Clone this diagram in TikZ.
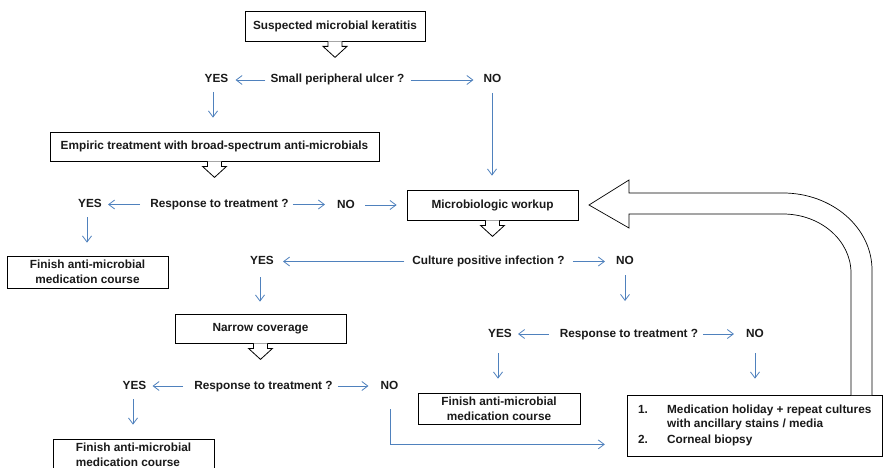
\documentclass[tikz,border=0pt]{standalone}
\usepackage{fontspec}
\setmainfont{Liberation Sans}
\usetikzlibrary{arrows.meta,calc}
\definecolor{arrowblue}{HTML}{4F81BD}
\definecolor{txt}{HTML}{1A1A1A}
\newcommand\blkarrow[1]{\draw[blk] ($(#1.south)+(-7,0)$) -- ++(0,5) -- ++(-5,0) -- ++(12,11) -- ++(12,-11) -- ++(-5,0) -- ++(0,-5);}
\begin{document}
\begin{tikzpicture}[x=1pt,y=-1pt,
  every node/.style={font=\bfseries\fontsize{11.8}{15}\selectfont, text=txt},
  box/.style={draw=black, line width=0.8pt, inner sep=2pt, align=center},
  lbl/.style={inner sep=0pt, text height=8.5pt, text depth=2.5pt},
  barrow/.style={draw=arrowblue, line width=0.8pt, -{Straight Barb[length=6pt,width=9pt]}},
  blk/.style={draw=black, line width=0.8pt, fill=white, line join=miter},
]
\useasboundingbox (0,0) rectangle (883,468);
\fill[white] (0,0) rectangle (883,468);

% boxes
\node[box, minimum width=180pt, minimum height=30pt] (b1) at (335,26) {Suspected microbial keratitis};
\node[box, minimum width=329pt, minimum height=29pt] (b2) at (214.5,146.5) {Empiric treatment with broad-spectrum anti-microbials};
\node[box, minimum width=171pt, minimum height=30pt] (b3) at (492.5,205) {Microbiologic workup};
\node[box, minimum width=161pt, minimum height=32pt] (f1) at (87.5,272) {Finish anti-microbial\\medication course};
\node[box, minimum width=171pt, minimum height=29pt] (b4) at (260.5,328.5) {Narrow coverage};
\node[box, minimum width=162pt, minimum height=31pt] (f2) at (499,408.5) {Finish anti-microbial\\medication course};
\node[box, minimum width=161pt, minimum height=32pt, align=left] (f3) at (133.5,455) {Finish anti-microbial\\medication course};
\node[box, minimum width=255pt, minimum height=61pt, align=left, font=\bfseries\fontsize{11.8}{14}\selectfont] (fin) at (754.75,425.5)
  {\begin{tabular}{@{}p{29pt}@{}l@{}}1. & Medication holiday + repeat cultures\\ & with ancillary stains / media\\[2pt] 2. & Corneal biopsy\end{tabular}};

% labels
\node[lbl] (q1) at (337.5,80) {Small peripheral ulcer ?};
\node[lbl] (y1) at (216.5,80) {YES};
\node[lbl] (n1) at (492.5,80) {NO};
\node[lbl] (q2) at (219.5,204.5) {Response to treatment ?};
\node[lbl] (y2) at (90,204.5) {YES};
\node[lbl] (n2) at (346,205) {NO};
\node[lbl] (q3) at (488.5,261.5) {Culture positive infection ?};
\node[lbl] (y3) at (262,261.5) {YES};
\node[lbl] (n3) at (625,261.5) {NO};
\node[lbl] (q4) at (629,334) {Response to treatment ?};
\node[lbl] (y4) at (500,334) {YES};
\node[lbl] (n4) at (755,334.5) {NO};
\node[lbl] (q5) at (263.5,386) {Response to treatment ?};
\node[lbl] (y5) at (134.5,386) {YES};
\node[lbl] (n5) at (389.5,386.5) {NO};

% block arrows
\blkarrow{b1}
\blkarrow{b2}
\blkarrow{b3}
\blkarrow{b4}

% big return arrow
\draw[blk, line width=0.7pt] (872,395) -- (872,270)
  .. controls (872,227.5) and (832,193) .. (783,193)
  -- (629,193) -- (629,180) -- (589,205) -- (629,228) -- (629,214) -- (783,214)
  .. controls (820.5,214) and (851,240.4) .. (851,273) -- (851,395);

% connectors
\draw[barrow, shorten <=5pt, shorten >=7pt] (q1.west) -- (y1.east);
\draw[barrow, shorten <=6pt, shorten >=10pt] (q1.east) -- (n1.west);
\draw[barrow] ($(y1)+(-3.5,12)$) -- ($(y1 |- b2.north)+(-3.5,-14)$);
\draw[barrow] ($(n1)+(-0.5,13)$) -- ($(n1 |- b3.north)+(-0.5,-14)$);

\draw[barrow, shorten <=10pt, shorten >=6pt] (q2.west) -- (y2.east);
\draw[barrow, shorten <=4pt, shorten >=12pt] (q2.east) -- (q2.east -| n2.west);
\draw[barrow, shorten <=10pt, shorten >=10pt] (n2.east) -- (n2.east -| b3.west);
\draw[barrow] ($(y2)+(-3,12.5)$) -- ($(y2 |- f1.north)+(-3,-13)$);

\draw[barrow, shorten <=8pt, shorten >=9pt] (q3.west) -- (y3.east);
\draw[barrow, shorten <=8pt, shorten >=11pt] (q3.east) -- (n3.west);
\draw[barrow] ($(y3)+(-2,15.5)$) -- ($(y3 |- b4.north)+(-2,-12)$);
\draw[barrow] ($(n3)+(0,13.5)$) -- ($(n3)+(0,39.5)$);

\draw[barrow, shorten <=11pt, shorten >=6pt] (q4.west) -- (y4.east);
\draw[barrow, shorten <=5pt, shorten >=12pt] (q4.east) -- (q4.east -| n4.west);
\draw[barrow] ($(y4)+(-2,19)$) -- ($(y4 |- f2.north)+(-2,-14)$);
\draw[barrow] ($(n4)+(0,18.5)$) -- ($(n4 |- fin.north)+(0,-16)$);

\draw[barrow, shorten <=11pt, shorten >=6pt] (q5.west) -- (y5.east);
\draw[barrow, shorten <=5pt, shorten >=12pt] (q5.east) -- (q5.east -| n5.west);
\draw[barrow] ($(y5)+(-1.5,13)$) -- ($(y5 |- f3.north)+(-1.5,-14)$);
\draw[barrow] ($(n5)+(0.5,22.5)$) |- ($(fin.south west)+(-22,-12)$);
\end{tikzpicture}
\end{document}
